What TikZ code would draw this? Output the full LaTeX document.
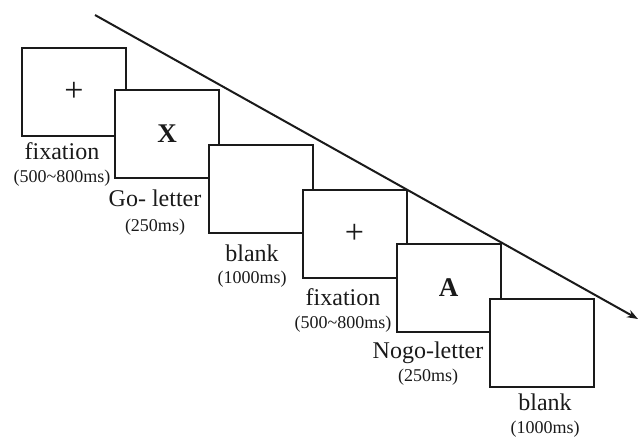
\documentclass[tikz,border=0pt]{standalone}
\usepackage{fontspec}
\setmainfont{Liberation Serif}
\usetikzlibrary{arrows.meta}
\definecolor{ink}{HTML}{1A1A1A}
\begin{document}
\begin{tikzpicture}[x=1pt,y=-1pt,
  screen/.style={draw=ink,fill=white,line width=2pt,minimum width=104pt,
    minimum height=88pt,inner sep=0pt,text=ink},
  stim/.style={font=\fontsize{27}{27}\selectfont\bfseries},
  cross/.style={font=\fontsize{34}{34}\selectfont},
  lab/.style={anchor=base,inner sep=0pt,text=ink,font=\fontsize{24}{24}\selectfont},
  dur/.style={anchor=base,inner sep=0pt,text=ink,font=\fontsize{18}{18}\selectfont}]
\useasboundingbox (0,0) rectangle (639,437);
% stimulus screens, later screens drawn over earlier ones
\node[screen,cross] (b1) at (74,91.5)  {+};
\node[screen,stim]  (b2) at (167,133.5) {X};
\node[screen]       (b3) at (260.5,189) {};
\node[screen,cross] (b4) at (354.5,234) {+};
\node[screen,stim]  (b5) at (448.5,287.5) {A};
\node[screen]       (b6) at (541.5,343) {};
% screen names and durations
\node[lab] (n1) at (62,159)  {fixation};
\node[dur] (d1) at (62,182)  {(500\textasciitilde800ms)};
\node[lab] (n2) at (155,206) {Go- letter};
\node[dur] (d2) at (155,231) {(250ms)};
\node[lab] (n3) at (252,261) {blank};
\node[dur] (d3) at (252,283) {(1000ms)};
\node[lab] (n4) at (343,305) {fixation};
\node[dur] (d4) at (343,328) {(500\textasciitilde800ms)};
\node[lab] (n5) at (428,358) {Nogo-letter};
\node[dur] (d5) at (428,381) {(250ms)};
\node[lab] (n6) at (545,410) {blank};
\node[dur] (d6) at (545,433) {(1000ms)};
% time axis
\coordinate (t0) at (95,15);
\coordinate (t1) at (638,319);
\draw[ink,line width=2pt,-{Stealth[length=11pt,width=8pt]}] (t0) -- (t1);
\end{tikzpicture}
\end{document}
